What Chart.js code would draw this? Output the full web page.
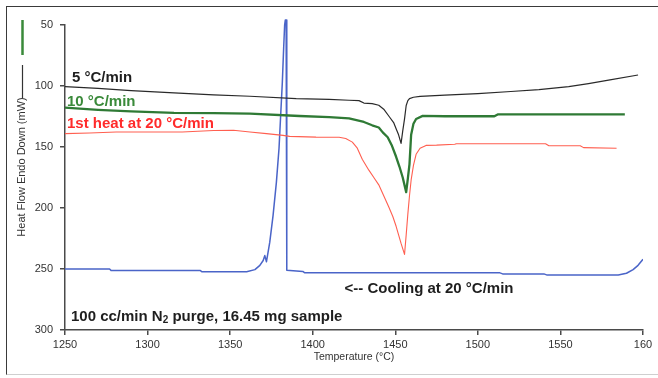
<!DOCTYPE html>
<html>
<head>
<meta charset="utf-8">
<script src="https://cdn.jsdelivr.net/npm/chart.js@4.4.1/dist/chart.umd.min.js"></script>
<style>
  html, body { margin: 0; padding: 0; background: #fff; }
  #wrap { position: relative; width: 658px; height: 378px; }
  #frame {
    position: absolute; left: 6px; top: 6px; width: 652px; height: 369px;
    border-top: 1.5px solid #3a3a3a; border-left: 1.5px solid #3a3a3a;
    border-bottom: 1px solid #cfcfcf; pointer-events: none; box-sizing: border-box;
  }
</style>
</head>
<body>
<div id="wrap">
  <canvas id="dscChart" width="658" height="378"></canvas>
  <div id="frame"></div>
</div>
<script>
// heating runs (endo down) and the cooling run, temperature in °C, heat flow in mW
const heat5Temp = [1250, 1270, 1290, 1316, 1340, 1362, 1390, 1410, 1422, 1428, 1431, 1436, 1440, 1443, 1446.5, 1449, 1450.5, 1452, 1453.5, 1454.5, 1455.6, 1456.6, 1457.6, 1458.6, 1461, 1465, 1480, 1500, 1520, 1537, 1555, 1567, 1580, 1597];
const heat5Flow = [100.5, 102, 103.8, 105.7, 107.2, 108.4, 110.3, 111, 111.7, 112, 114, 114.5, 115.8, 119, 125.4, 130, 135, 140, 147, 137, 127, 116, 112, 110.3, 109.2, 108.5, 107.5, 106.2, 104.5, 103, 100.5, 98, 95, 91];

const heat10Temp = [1250, 1270, 1290, 1316, 1340, 1362, 1392, 1410, 1422, 1431, 1436, 1440, 1442.4, 1445.4, 1448, 1450.5, 1452.5, 1454.5, 1456.6, 1457.6, 1458.6, 1459.6, 1461, 1462.6, 1466.6, 1480, 1510, 1512, 1589];
const heat10Flow = [117.8, 119.5, 120.8, 122, 122.3, 122.6, 124.6, 125.5, 126.5, 129.5, 132.2, 134, 138, 142, 149, 158, 166, 175, 187, 176, 164, 140, 131, 127, 124.5, 124.8, 124.8, 123.3, 123.3];

const firstHeatTemp = [1250, 1265, 1281, 1300, 1321, 1340, 1352, 1362, 1372, 1382, 1386, 1402, 1416, 1420, 1424, 1427, 1430, 1434, 1437, 1440, 1443, 1446, 1448.5, 1450.5, 1452, 1453.5, 1455.6, 1456.6, 1457.6, 1458.6, 1459.6, 1461, 1462.6, 1465, 1468.6, 1475, 1486, 1487, 1541, 1543, 1562, 1564, 1584];
const firstHeatFlow = [139, 138.5, 137.7, 137.7, 137.7, 136.5, 136.3, 137.7, 139, 140.5, 141.3, 141.9, 142, 143, 146, 151, 160, 169, 175, 181, 190, 199, 207, 215, 222, 229, 238, 222, 205, 190, 177, 165, 156, 151, 148.7, 148.5, 147.8, 147.3, 147.3, 149, 149, 150.5, 151];

const coolTemp = [1250, 1277, 1278, 1332, 1333, 1360, 1365, 1368, 1370, 1371, 1372, 1374, 1376, 1378, 1379.6, 1380.6, 1381.6, 1382.4, 1383, 1383.4, 1383.9, 1384.2, 1384.4, 1394, 1395, 1513, 1515, 1540, 1542, 1585, 1590, 1594, 1597, 1600];
const coolFlow = [250, 250, 251.3, 251.3, 252.3, 252.3, 250.5, 247, 243, 239, 244, 228, 206, 179, 151, 124, 97, 69, 50, 46, 46, 60, 251, 252, 253, 253, 254, 254, 255, 255, 253.5, 250.5, 247, 242];

const xTickLabels = ['1250', '1300', '1350', '1400', '1450', '1500', '1550', '160'];
const yTickValues = [50, 100, 150, 200, 250, 300];

const FONT = "'Liberation Sans', Arial, sans-serif";

function pts(xs, ys) {
    return xs.map((x, i) => ({ x: x, y: ys[i] }));
}

// free text on the plot, anchored in data units
const notes = [
    { text: '5 °C/min', t: 1254.2, v: 96.9, color: '#1e1e1e' },
    { text: '10 °C/min', t: 1251.2, v: 116.6, color: '#3a8a3a' },
    { text: '1st heat at 20 °C/min', t: 1251.2, v: 134.7, color: '#ff2b2b' },
    { text: '<-- Cooling at 20 °C/min', t: 1419.3, v: 269.6, color: '#1e1e1e' }
];

const annotate = {
    id: 'annotate',
    afterDraw(chart) {
        const ctx = chart.ctx;
        const xs = chart.scales.x, ys = chart.scales.y;
        ctx.save();
        ctx.textBaseline = 'alphabetic';
        ctx.textAlign = 'left';
        ctx.font = 'bold 15px ' + FONT;
        notes.forEach(n => {
            ctx.fillStyle = n.color;
            ctx.fillText(n.text, xs.getPixelForValue(n.t), ys.getPixelForValue(n.v));
        });

        // purge note, with a subscript 2 on N
        let px = xs.getPixelForValue(1253.6);
        const py = ys.getPixelForValue(292.6);
        ctx.fillStyle = '#1e1e1e';
        const a = '100 cc/min N';
        ctx.fillText(a, px, py);
        px += ctx.measureText(a).width;
        ctx.font = 'bold 10px ' + FONT;
        ctx.fillText('2', px, py + 2.5);
        px += ctx.measureText('2').width;
        ctx.font = 'bold 15px ' + FONT;
        ctx.fillText(' purge, 16.45 mg sample', px, py);

        // y title with the little line keys above it
        ctx.strokeStyle = '#3a8a3a';
        ctx.lineWidth = 2.5;
        ctx.beginPath(); ctx.moveTo(22.5, 20); ctx.lineTo(22.5, 55); ctx.stroke();
        ctx.strokeStyle = '#333';
        ctx.lineWidth = 1.2;
        ctx.beginPath(); ctx.moveTo(22.5, 65); ctx.lineTo(22.5, 98); ctx.stroke();

        ctx.translate(22, 167);
        ctx.rotate(-Math.PI / 2);
        ctx.textAlign = 'center';
        ctx.textBaseline = 'middle';
        ctx.font = '11px ' + FONT;
        ctx.fillStyle = '#333';
        ctx.fillText('Heat Flow Endo Down (mW)', 0, 0);
        ctx.restore();
    }
};

const axisColor = '#4a4a4a';

new Chart(document.getElementById('dscChart'), {
    type: 'line',
    data: {
        datasets: [
            { label: '1st heat at 20 °C/min', data: pts(firstHeatTemp, firstHeatFlow), borderColor: '#ff5f50', borderWidth: 1.1 },
            { label: '10 °C/min', data: pts(heat10Temp, heat10Flow), borderColor: '#2f7a35', borderWidth: 2.3 },
            { label: '5 °C/min', data: pts(heat5Temp, heat5Flow), borderColor: '#2a2a2a', borderWidth: 1.2 },
            { label: 'Cooling at 20 °C/min', data: pts(coolTemp, coolFlow), borderColor: '#4a64c8', borderWidth: 1.5,
              clip: { left: 0, top: 8, right: 0, bottom: 0 } }
        ]
    },
    options: {
        responsive: false,
        animation: false,
        events: [],
        elements: { point: { radius: 0 }, line: { tension: 0, borderJoinStyle: 'round' } },
        layout: { padding: { top: 25, right: 15, bottom: 0, left: 0 } },
        plugins: { legend: { display: false }, tooltip: { enabled: false } },
        scales: {
            x: {
                type: 'linear',
                min: 1250,
                max: 1600,
                afterFit: s => { s.height = 48; },
                afterBuildTicks: s => { s.ticks = xTickLabels.map((_, i) => ({ value: 1250 + i * 50 })); },
                ticks: {
                    padding: 3,
                    maxRotation: 0,
                    color: '#333',
                    font: { family: FONT, size: 11 },
                    callback: (v, i) => xTickLabels[i]
                },
                grid: { drawOnChartArea: false, drawTicks: true, tickLength: 5, color: axisColor, lineWidth: 1.5 },
                border: { display: true, color: axisColor, width: 1.5 },
                title: {
                    display: true,
                    text: 'Temperature (°C)',
                    color: '#333',
                    font: { family: FONT, size: 10.5 },
                    padding: { top: 0, bottom: 14.5 }
                }
            },
            y: {
                type: 'linear',
                reverse: true,
                min: 50,
                max: 300,
                afterFit: s => { s.width = 65; },
                afterBuildTicks: s => { s.ticks = yTickValues.map(v => ({ value: v })); },
                ticks: {
                    padding: 7,
                    color: '#333',
                    font: { family: FONT, size: 11 }
                },
                grid: { drawOnChartArea: false, drawTicks: true, tickLength: 5, color: axisColor, lineWidth: 1.5 },
                border: { display: true, color: axisColor, width: 1.5 }
            }
        }
    },
    plugins: [annotate]
});
</script>
</body>
</html>
